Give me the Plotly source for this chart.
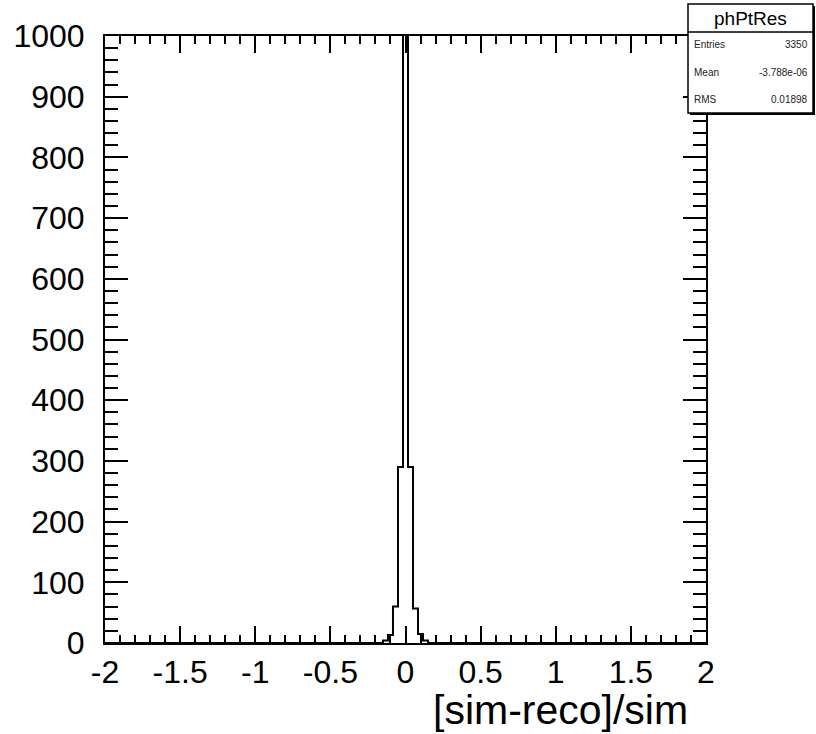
import plotly.graph_objects as go

# ---- data ----
hist_name = "phPtRes"
x_title = "[sim-reco]/sim"
bin_width = 1.0 / 30.0          # 120 bins over [-2, 2]
bin_centers = [-0.1667, -0.1333, -0.1, -0.0667, -0.0333, 0.0, 0.0333, 0.0667, 0.1, 0.1333, 0.1667]
counts = [0, 4, 13, 60, 290, 2620, 290, 57, 15, 4, 0]
x_tick_vals = [-2, -1.5, -1, -0.5, 0, 0.5, 1, 1.5, 2]
x_tick_text = ["-2", "-1.5", "-1", "-0.5", "0", "0.5", "1", "1.5", "2"]
y_tick_vals = [0, 100, 200, 300, 400, 500, 600, 700, 800, 900, 1000]
stats_labels = ["Entries", "Mean", "RMS"]
stats_values = ["3350", "-3.788e-06", "0.01898"]

# ---- build step outline (ROOT style histogram) ----
xs = [-2.0, bin_centers[0] - bin_width / 2]
ys = [0, 0]
for c, n in zip(bin_centers, counts):
    xs.append(c - bin_width / 2)
    ys.append(n)
xs.append(bin_centers[-1] + bin_width / 2)
ys.append(0)
xs.append(2.0)
ys.append(0)

FONT = "Liberation Sans, Arial, Helvetica, sans-serif"

fig = go.Figure()
fig.add_trace(go.Scatter(x=xs, y=ys, mode="lines", line=dict(color="black", width=2, shape="hv"),
                         hoverinfo="skip", showlegend=False))

fig.update_layout(
    width=816, height=734,
    margin=dict(l=105, r=110, t=36, b=91, autoexpand=False),
    paper_bgcolor="white", plot_bgcolor="white",
    font=dict(family=FONT, color="black"),
    showlegend=False,
)
fig.update_xaxes(
    range=[-2, 2], showgrid=False, zeroline=False, automargin=False,
    showline=True, linecolor="black", linewidth=2, mirror="ticks",
    ticks="inside", ticklen=17, tickwidth=1.5, tickcolor="black",
    tickvals=x_tick_vals, ticktext=x_tick_text,
    tickfont=dict(size=32, family=FONT, color="black"),
    ticklabelstandoff=0,
    minor=dict(dtick=0.1, ticks="inside", ticklen=8, tickwidth=1.5, tickcolor="black", showgrid=False),
)
fig.update_yaxes(
    range=[0, 1000], showgrid=False, zeroline=False, automargin=False,
    showline=True, linecolor="black", linewidth=2, mirror="ticks",
    ticks="inside", ticklen=23, tickwidth=1.5, tickcolor="black",
    tickvals=y_tick_vals,
    tickfont=dict(size=32, family=FONT, color="black"),
    ticklabelstandoff=12,
    minor=dict(dtick=20, ticks="inside", ticklen=13, tickwidth=1.5, tickcolor="black", showgrid=False),
)

# axis title, right-aligned like ROOT
fig.add_annotation(text=x_title, xref="paper", yref="paper", x=0.9734, y=-0.11,
                   xanchor="right", yanchor="middle", showarrow=False,
                   font=dict(size=41, family=FONT, color="black"))

# ---- stats box ----
px0, px1 = 105, 706
py0, py1 = 36, 643
def fx(p):
    return (p - px0) / (px1 - px0)
def fy(p):
    return (py1 - p) / (py1 - py0)

bx0, bx1, by0, by1, bsep = 688, 813, 4, 113, 32
fig.add_shape(type="rect", xref="paper", yref="paper", x0=fx(bx0 + 2), x1=fx(bx1 + 2), y0=fy(by1 + 2), y1=fy(by0 + 2),
              fillcolor="black", line=dict(color="black", width=0), layer="above")
fig.add_shape(type="rect", xref="paper", yref="paper", x0=fx(bx0), x1=fx(bx1), y0=fy(by1), y1=fy(by0),
              fillcolor="white", line=dict(color="black", width=1.5), layer="above")
fig.add_shape(type="line", xref="paper", yref="paper", x0=fx(bx0), x1=fx(bx1), y0=fy(bsep), y1=fy(bsep),
              line=dict(color="black", width=1.5), layer="above")
fig.add_annotation(text=hist_name, xref="paper", yref="paper", x=fx((bx0 + bx1) / 2), y=fy(18),
                   xanchor="center", yanchor="middle", showarrow=False,
                   font=dict(size=19, family=FONT, color="black"))
row_y = [45, 72, 99]
for lab, val, ry in zip(stats_labels, stats_values, row_y):
    fig.add_annotation(text=lab, xref="paper", yref="paper", x=fx(692), y=fy(ry),
                       xanchor="left", yanchor="middle", showarrow=False,
                       font=dict(size=10, family=FONT, color="#222"))
    fig.add_annotation(text=val, xref="paper", yref="paper", x=fx(810), y=fy(ry),
                       xanchor="right", yanchor="middle", showarrow=False,
                       font=dict(size=10, family=FONT, color="#222"))

fig.write_html("out.html", config={"displayModeBar": False},
               post_script="document.body.style.margin='0';document.body.style.overflow='hidden';")
